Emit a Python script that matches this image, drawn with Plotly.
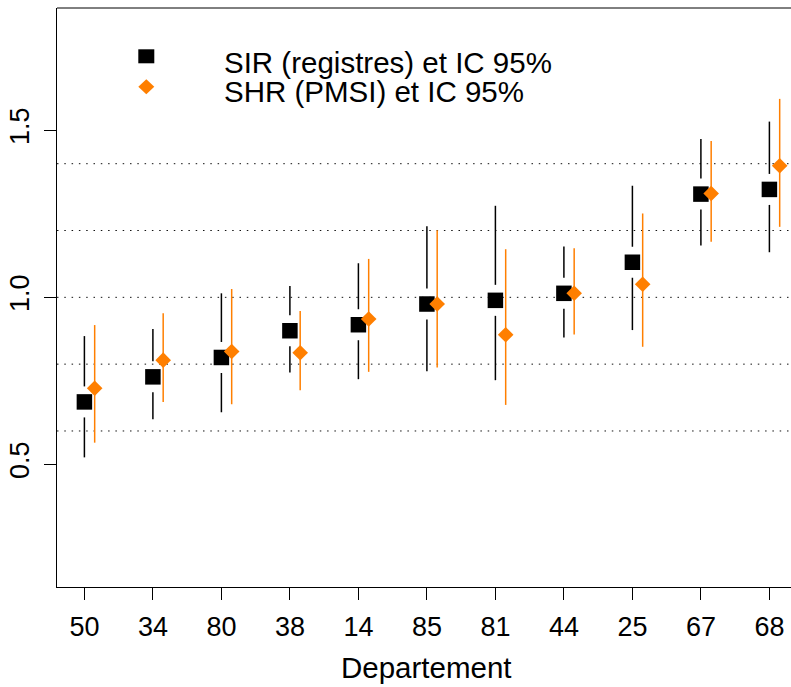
import plotly.graph_objects as go

# ---- data ----
departements = ["50", "34", "80", "38", "14", "85", "81", "44", "25", "67", "68"]
sir = [0.687, 0.762, 0.820, 0.900, 0.918, 0.980, 0.991, 1.012, 1.105, 1.309, 1.323]
sir_low = [0.521, 0.635, 0.656, 0.775, 0.755, 0.779, 0.752, 0.880, 0.902, 1.155, 1.135]
sir_high = [0.884, 0.905, 1.012, 1.034, 1.102, 1.213, 1.274, 1.152, 1.334, 1.474, 1.526]
shr = [0.728, 0.812, 0.838, 0.834, 0.935, 0.980, 0.888, 1.012, 1.039, 1.311, 1.394]
shr_low = [0.565, 0.687, 0.680, 0.722, 0.777, 0.790, 0.678, 0.889, 0.852, 1.166, 1.211]
shr_high = [0.917, 0.952, 1.025, 0.959, 1.115, 1.201, 1.144, 1.147, 1.251, 1.468, 1.594]
grid_levels = [0.6, 0.8, 1.0, 1.2, 1.4]
y_ticks = [0.5, 1.0, 1.5]
legend_labels = ["SIR (registres) et IC 95%", "SHR (PMSI) et IC 95%"]

ORANGE = "#FF7F00"
FONT = "Liberation Sans, Arial, sans-serif"
FS = 27
FS_TXT = 29.5

W, H = 791, 687
L, R, T, B = 57, 0, 8, 100
PW, PH = W - L - R, H - T - B
PX_PER_X = 68.5
x_range = [0.6, 0.6 + PW / PX_PER_X]
y_range = [0.133, 1.866]
y_per_px = (y_range[1] - y_range[0]) / PH

pos = list(range(1, len(departements) + 1))
offset = 0.15
gap = 15.5 * y_per_px  # gap around the SIR point (in data units)

def px(x):
    return (x - L) / PW

def py(y):
    return (T + PH - y) / PH

# black CI segments with gap around point
bx, by = [], []
for p, v, lo, hi in zip(pos, sir, sir_low, sir_high):
    if v - gap > lo:
        bx += [p, p, None]
        by += [lo, v - gap, None]
    if v + gap < hi:
        bx += [p, p, None]
        by += [v + gap, hi, None]

ox, oy = [], []
for p, lo, hi in zip(pos, shr_low, shr_high):
    ox += [p + offset, p + offset, None]
    oy += [lo, hi, None]

fig = go.Figure()
fig.add_trace(go.Scatter(x=bx, y=by, mode="lines", line=dict(color="black", width=1.5),
                         showlegend=False, hoverinfo="skip"))
fig.add_trace(go.Scatter(x=pos, y=sir, mode="markers",
                         marker=dict(symbol="square", size=15.5, color="black", line=dict(width=0)),
                         showlegend=False))
fig.add_trace(go.Scatter(x=ox, y=oy, mode="lines", line=dict(color=ORANGE, width=1.5),
                         showlegend=False, hoverinfo="skip"))
fig.add_trace(go.Scatter(x=[p + offset for p in pos], y=shr, mode="markers",
                         marker=dict(symbol="diamond", size=12, color=ORANGE, line=dict(width=0)),
                         showlegend=False))

shapes = []
for g in grid_levels:
    shapes.append(dict(type="line", xref="paper", yref="y", x0=0, x1=1, y0=g, y1=g,
                       line=dict(color="#111111", width=1, dash="1.5px,5.8px"), layer="below"))
# top border of the box
shapes.append(dict(type="line", xref="paper", yref="paper", x0=0, x1=1, y0=1, y1=1,
                   line=dict(color="black", width=1)))
# legend symbols
sx, sy = 146.3, 56.3
shapes.append(dict(type="rect", xref="paper", yref="paper",
                   x0=px(sx - 8), x1=px(sx + 8), y0=py(sy + 7), y1=py(sy - 7),
                   fillcolor="black", line=dict(width=0)))
dx, dy = 146.3, 86.7
shapes.append(dict(type="path", xref="paper", yref="paper",
                   path=f"M {px(dx-8)},{py(dy)} L {px(dx)},{py(dy-7.5)} L {px(dx+8)},{py(dy)} L {px(dx)},{py(dy+7.5)} Z",
                   fillcolor=ORANGE, line=dict(width=0)))

annotations = [
    dict(text=legend_labels[0], xref="paper", yref="paper", x=px(222), y=py(63),
         xanchor="left", yanchor="middle", showarrow=False, font=dict(size=FS_TXT, color="black", family=FONT)),
    dict(text=legend_labels[1], xref="paper", yref="paper", x=px(222), y=py(91.5),
         xanchor="left", yanchor="middle", showarrow=False, font=dict(size=FS_TXT, color="black", family=FONT)),
    dict(text="Departement", xref="x", yref="paper", x=6, y=py(667),
         xanchor="center", yanchor="middle", showarrow=False, font=dict(size=FS_TXT, color="black", family=FONT)),
]

fig.update_layout(
    width=W, height=H,
    margin=dict(l=L, r=R, t=T, b=B, pad=0),
    paper_bgcolor="white", plot_bgcolor="white",
    font=dict(family=FONT, size=FS, color="black"),
    shapes=shapes, annotations=annotations,
    xaxis=dict(range=x_range, tickmode="array", tickvals=pos, ticktext=departements,
               ticks="outside", ticklen=12, tickwidth=1, tickcolor="black",
               showline=True, linecolor="black", linewidth=1, showgrid=False, zeroline=False,
               tickfont=dict(size=FS, family=FONT), ticklabelstandoff=4),
    yaxis=dict(range=y_range, tickmode="array", tickvals=y_ticks,
               ticktext=[f"{v:.1f}" for v in y_ticks], tickangle=-90,
               ticks="outside", ticklen=12, tickwidth=1, tickcolor="black",
               showline=True, linecolor="black", linewidth=1, showgrid=False, zeroline=False,
               tickfont=dict(size=FS, family=FONT), ticklabelstandoff=4),
)

fig.write_html("out.html")
